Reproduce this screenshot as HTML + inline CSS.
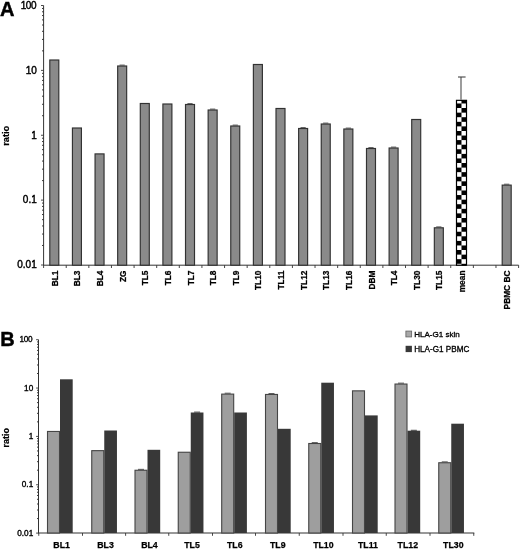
<!DOCTYPE html>
<html><head><meta charset="utf-8"><title>Figure</title>
<style>
html,body{margin:0;padding:0;background:#fff;}
body{width:520px;height:549px;overflow:hidden;font-family:"Liberation Sans",sans-serif;}
svg{display:block;font-family:"Liberation Sans",sans-serif;}
</style></head>
<body>
<svg width="520" height="549" viewBox="0 0 520 549">
<defs>
<pattern id="chk" patternUnits="userSpaceOnUse" x="456.9" y="98.9" width="9.16" height="9.16">
<rect x="0" y="0" width="9.16" height="9.16" fill="#fff"/>
<rect x="4.58" y="0" width="4.58" height="4.58" fill="#000"/>
<rect x="0" y="4.58" width="4.58" height="4.58" fill="#000"/>
</pattern>
<filter id="soft" x="0" y="0" width="520" height="549" filterUnits="userSpaceOnUse"><feGaussianBlur stdDeviation="0.38"/></filter>
</defs>
<rect x="0" y="0" width="520" height="549" fill="#ffffff"/>
<g filter="url(#soft)">
<line x1="43.6" y1="5.5" x2="43.6" y2="265.2" stroke="#333" stroke-width="1"/>
<line x1="43.1" y1="265.2" x2="518.6" y2="265.2" stroke="#333" stroke-width="1"/>
<line x1="41.0" y1="265.00" x2="43.6" y2="265.00" stroke="#333" stroke-width="0.9"/>
<line x1="42.0" y1="245.47" x2="43.6" y2="245.47" stroke="#303030" stroke-width="0.95"/>
<line x1="42.0" y1="234.05" x2="43.6" y2="234.05" stroke="#303030" stroke-width="0.95"/>
<line x1="42.0" y1="225.94" x2="43.6" y2="225.94" stroke="#303030" stroke-width="0.95"/>
<line x1="42.0" y1="219.65" x2="43.6" y2="219.65" stroke="#303030" stroke-width="0.95"/>
<line x1="42.0" y1="214.52" x2="43.6" y2="214.52" stroke="#303030" stroke-width="0.95"/>
<line x1="42.0" y1="210.17" x2="43.6" y2="210.17" stroke="#303030" stroke-width="0.95"/>
<line x1="42.0" y1="206.41" x2="43.6" y2="206.41" stroke="#303030" stroke-width="0.95"/>
<line x1="42.0" y1="203.09" x2="43.6" y2="203.09" stroke="#303030" stroke-width="0.95"/>
<line x1="41.0" y1="200.12" x2="43.6" y2="200.12" stroke="#333" stroke-width="0.9"/>
<line x1="42.0" y1="180.60" x2="43.6" y2="180.60" stroke="#303030" stroke-width="0.95"/>
<line x1="42.0" y1="169.17" x2="43.6" y2="169.17" stroke="#303030" stroke-width="0.95"/>
<line x1="42.0" y1="161.07" x2="43.6" y2="161.07" stroke="#303030" stroke-width="0.95"/>
<line x1="42.0" y1="154.78" x2="43.6" y2="154.78" stroke="#303030" stroke-width="0.95"/>
<line x1="42.0" y1="149.64" x2="43.6" y2="149.64" stroke="#303030" stroke-width="0.95"/>
<line x1="42.0" y1="145.30" x2="43.6" y2="145.30" stroke="#303030" stroke-width="0.95"/>
<line x1="42.0" y1="141.54" x2="43.6" y2="141.54" stroke="#303030" stroke-width="0.95"/>
<line x1="42.0" y1="138.22" x2="43.6" y2="138.22" stroke="#303030" stroke-width="0.95"/>
<line x1="41.0" y1="135.25" x2="43.6" y2="135.25" stroke="#333" stroke-width="0.9"/>
<line x1="42.0" y1="115.72" x2="43.6" y2="115.72" stroke="#303030" stroke-width="0.95"/>
<line x1="42.0" y1="104.30" x2="43.6" y2="104.30" stroke="#303030" stroke-width="0.95"/>
<line x1="42.0" y1="96.19" x2="43.6" y2="96.19" stroke="#303030" stroke-width="0.95"/>
<line x1="42.0" y1="89.90" x2="43.6" y2="89.90" stroke="#303030" stroke-width="0.95"/>
<line x1="42.0" y1="84.77" x2="43.6" y2="84.77" stroke="#303030" stroke-width="0.95"/>
<line x1="42.0" y1="80.42" x2="43.6" y2="80.42" stroke="#303030" stroke-width="0.95"/>
<line x1="42.0" y1="76.66" x2="43.6" y2="76.66" stroke="#303030" stroke-width="0.95"/>
<line x1="42.0" y1="73.34" x2="43.6" y2="73.34" stroke="#303030" stroke-width="0.95"/>
<line x1="41.0" y1="70.38" x2="43.6" y2="70.38" stroke="#333" stroke-width="0.9"/>
<line x1="42.0" y1="50.85" x2="43.6" y2="50.85" stroke="#303030" stroke-width="0.95"/>
<line x1="42.0" y1="39.42" x2="43.6" y2="39.42" stroke="#303030" stroke-width="0.95"/>
<line x1="42.0" y1="31.32" x2="43.6" y2="31.32" stroke="#303030" stroke-width="0.95"/>
<line x1="42.0" y1="25.03" x2="43.6" y2="25.03" stroke="#303030" stroke-width="0.95"/>
<line x1="42.0" y1="19.89" x2="43.6" y2="19.89" stroke="#303030" stroke-width="0.95"/>
<line x1="42.0" y1="15.55" x2="43.6" y2="15.55" stroke="#303030" stroke-width="0.95"/>
<line x1="42.0" y1="11.79" x2="43.6" y2="11.79" stroke="#303030" stroke-width="0.95"/>
<line x1="42.0" y1="8.47" x2="43.6" y2="8.47" stroke="#303030" stroke-width="0.95"/>
<line x1="41.0" y1="5.50" x2="43.6" y2="5.50" stroke="#333" stroke-width="0.9"/>
<line x1="43.60" y1="265.2" x2="43.60" y2="268.0" stroke="#333" stroke-width="0.9"/>
<line x1="66.22" y1="265.2" x2="66.22" y2="268.0" stroke="#333" stroke-width="0.9"/>
<line x1="88.84" y1="265.2" x2="88.84" y2="268.0" stroke="#333" stroke-width="0.9"/>
<line x1="111.46" y1="265.2" x2="111.46" y2="268.0" stroke="#333" stroke-width="0.9"/>
<line x1="134.08" y1="265.2" x2="134.08" y2="268.0" stroke="#333" stroke-width="0.9"/>
<line x1="156.70" y1="265.2" x2="156.70" y2="268.0" stroke="#333" stroke-width="0.9"/>
<line x1="179.31" y1="265.2" x2="179.31" y2="268.0" stroke="#333" stroke-width="0.9"/>
<line x1="201.93" y1="265.2" x2="201.93" y2="268.0" stroke="#333" stroke-width="0.9"/>
<line x1="224.55" y1="265.2" x2="224.55" y2="268.0" stroke="#333" stroke-width="0.9"/>
<line x1="247.17" y1="265.2" x2="247.17" y2="268.0" stroke="#333" stroke-width="0.9"/>
<line x1="269.79" y1="265.2" x2="269.79" y2="268.0" stroke="#333" stroke-width="0.9"/>
<line x1="292.41" y1="265.2" x2="292.41" y2="268.0" stroke="#333" stroke-width="0.9"/>
<line x1="315.03" y1="265.2" x2="315.03" y2="268.0" stroke="#333" stroke-width="0.9"/>
<line x1="337.65" y1="265.2" x2="337.65" y2="268.0" stroke="#333" stroke-width="0.9"/>
<line x1="360.27" y1="265.2" x2="360.27" y2="268.0" stroke="#333" stroke-width="0.9"/>
<line x1="382.89" y1="265.2" x2="382.89" y2="268.0" stroke="#333" stroke-width="0.9"/>
<line x1="405.50" y1="265.2" x2="405.50" y2="268.0" stroke="#333" stroke-width="0.9"/>
<line x1="428.12" y1="265.2" x2="428.12" y2="268.0" stroke="#333" stroke-width="0.9"/>
<line x1="450.74" y1="265.2" x2="450.74" y2="268.0" stroke="#333" stroke-width="0.9"/>
<line x1="473.36" y1="265.2" x2="473.36" y2="268.0" stroke="#333" stroke-width="0.9"/>
<line x1="495.98" y1="265.2" x2="495.98" y2="268.0" stroke="#333" stroke-width="0.9"/>
<line x1="518.60" y1="265.2" x2="518.60" y2="268.0" stroke="#333" stroke-width="0.9"/>
<text x="36.3" y="8.75" text-anchor="end" font-size="10" letter-spacing="-0.35" fill="#000" stroke="#000" stroke-width="0.42">100</text>
<text x="36.75" y="73.62" text-anchor="end" font-size="10" fill="#000" stroke="#000" stroke-width="0.42">10</text>
<text x="36.75" y="138.50" text-anchor="end" font-size="10" fill="#000" stroke="#000" stroke-width="0.42">1</text>
<text x="36.75" y="203.38" text-anchor="end" font-size="10" fill="#000" stroke="#000" stroke-width="0.42">0.1</text>
<text x="36.75" y="268.25" text-anchor="end" font-size="10" fill="#000" stroke="#000" stroke-width="0.42">0.01</text>
<text transform="translate(9.2,135.8) rotate(-90)" text-anchor="middle" font-size="9.2" font-weight="bold" fill="#000" stroke="#000" stroke-width="0.25">ratio</text>
<text x="0.1" y="16.2" font-size="20" font-weight="bold" fill="#000" stroke="#000" stroke-width="0.45">A</text>
<rect x="49.81" y="60.00" width="9.00" height="205.20" fill="#8a8a8a" stroke="#303030" stroke-width="1.15"/>
<text transform="translate(57.86,270.5) rotate(-90)" text-anchor="end" font-size="8.35" font-weight="bold" fill="#000" stroke="#000" stroke-width="0.25">BL1</text>
<rect x="72.43" y="128.00" width="9.00" height="137.20" fill="#8a8a8a" stroke="#303030" stroke-width="1.15"/>
<text transform="translate(80.48,270.5) rotate(-90)" text-anchor="end" font-size="8.35" font-weight="bold" fill="#000" stroke="#000" stroke-width="0.25">BL3</text>
<rect x="95.05" y="153.90" width="9.00" height="111.30" fill="#8a8a8a" stroke="#303030" stroke-width="1.15"/>
<text transform="translate(103.10,270.5) rotate(-90)" text-anchor="end" font-size="8.35" font-weight="bold" fill="#000" stroke="#000" stroke-width="0.25">BL4</text>
<rect x="117.67" y="66.00" width="9.00" height="199.20" fill="#8a8a8a" stroke="#303030" stroke-width="1.15"/>
<line x1="119.57" y1="65.10" x2="124.77" y2="65.10" stroke="#444" stroke-width="0.9"/>
<text transform="translate(125.72,270.5) rotate(-90)" text-anchor="end" font-size="8.35" font-weight="bold" fill="#000" stroke="#000" stroke-width="0.25">ZG</text>
<rect x="140.29" y="103.50" width="9.00" height="161.70" fill="#8a8a8a" stroke="#303030" stroke-width="1.15"/>
<text transform="translate(148.34,270.5) rotate(-90)" text-anchor="end" font-size="8.35" font-weight="bold" fill="#000" stroke="#000" stroke-width="0.25">TL5</text>
<rect x="162.90" y="104.00" width="9.00" height="161.20" fill="#8a8a8a" stroke="#303030" stroke-width="1.15"/>
<text transform="translate(170.95,270.5) rotate(-90)" text-anchor="end" font-size="8.35" font-weight="bold" fill="#000" stroke="#000" stroke-width="0.25">TL6</text>
<rect x="185.52" y="104.50" width="9.00" height="160.70" fill="#8a8a8a" stroke="#303030" stroke-width="1.15"/>
<line x1="187.42" y1="103.60" x2="192.62" y2="103.60" stroke="#444" stroke-width="0.9"/>
<text transform="translate(193.57,270.5) rotate(-90)" text-anchor="end" font-size="8.35" font-weight="bold" fill="#000" stroke="#000" stroke-width="0.25">TL7</text>
<rect x="208.14" y="110.00" width="9.00" height="155.20" fill="#8a8a8a" stroke="#303030" stroke-width="1.15"/>
<line x1="210.04" y1="109.10" x2="215.24" y2="109.10" stroke="#444" stroke-width="0.9"/>
<text transform="translate(216.19,270.5) rotate(-90)" text-anchor="end" font-size="8.35" font-weight="bold" fill="#000" stroke="#000" stroke-width="0.25">TL8</text>
<rect x="230.76" y="126.00" width="9.00" height="139.20" fill="#8a8a8a" stroke="#303030" stroke-width="1.15"/>
<line x1="232.66" y1="125.10" x2="237.86" y2="125.10" stroke="#444" stroke-width="0.9"/>
<text transform="translate(238.81,270.5) rotate(-90)" text-anchor="end" font-size="8.35" font-weight="bold" fill="#000" stroke="#000" stroke-width="0.25">TL9</text>
<rect x="253.38" y="64.50" width="9.00" height="200.70" fill="#8a8a8a" stroke="#303030" stroke-width="1.15"/>
<text transform="translate(261.43,270.5) rotate(-90)" text-anchor="end" font-size="8.35" font-weight="bold" fill="#000" stroke="#000" stroke-width="0.25">TL10</text>
<rect x="276.00" y="108.50" width="9.00" height="156.70" fill="#8a8a8a" stroke="#303030" stroke-width="1.15"/>
<text transform="translate(284.05,270.5) rotate(-90)" text-anchor="end" font-size="8.35" font-weight="bold" fill="#000" stroke="#000" stroke-width="0.25">TL11</text>
<rect x="298.62" y="128.50" width="9.00" height="136.70" fill="#8a8a8a" stroke="#303030" stroke-width="1.15"/>
<line x1="300.52" y1="127.60" x2="305.72" y2="127.60" stroke="#444" stroke-width="0.9"/>
<text transform="translate(306.67,270.5) rotate(-90)" text-anchor="end" font-size="8.35" font-weight="bold" fill="#000" stroke="#000" stroke-width="0.25">TL12</text>
<rect x="321.24" y="124.00" width="9.00" height="141.20" fill="#8a8a8a" stroke="#303030" stroke-width="1.15"/>
<line x1="323.14" y1="123.10" x2="328.34" y2="123.10" stroke="#444" stroke-width="0.9"/>
<text transform="translate(329.29,270.5) rotate(-90)" text-anchor="end" font-size="8.35" font-weight="bold" fill="#000" stroke="#000" stroke-width="0.25">TL13</text>
<rect x="343.86" y="129.00" width="9.00" height="136.20" fill="#8a8a8a" stroke="#303030" stroke-width="1.15"/>
<line x1="345.76" y1="128.10" x2="350.96" y2="128.10" stroke="#444" stroke-width="0.9"/>
<text transform="translate(351.91,270.5) rotate(-90)" text-anchor="end" font-size="8.35" font-weight="bold" fill="#000" stroke="#000" stroke-width="0.25">TL16</text>
<rect x="366.48" y="148.50" width="9.00" height="116.70" fill="#8a8a8a" stroke="#303030" stroke-width="1.15"/>
<line x1="368.38" y1="147.60" x2="373.58" y2="147.60" stroke="#444" stroke-width="0.9"/>
<text transform="translate(374.53,270.5) rotate(-90)" text-anchor="end" font-size="8.35" font-weight="bold" fill="#000" stroke="#000" stroke-width="0.25">DBM</text>
<rect x="389.10" y="148.00" width="9.00" height="117.20" fill="#8a8a8a" stroke="#303030" stroke-width="1.15"/>
<line x1="391.00" y1="147.10" x2="396.20" y2="147.10" stroke="#444" stroke-width="0.9"/>
<text transform="translate(397.15,270.5) rotate(-90)" text-anchor="end" font-size="8.35" font-weight="bold" fill="#000" stroke="#000" stroke-width="0.25">TL4</text>
<rect x="411.71" y="119.50" width="9.00" height="145.70" fill="#8a8a8a" stroke="#303030" stroke-width="1.15"/>
<text transform="translate(419.76,270.5) rotate(-90)" text-anchor="end" font-size="8.35" font-weight="bold" fill="#000" stroke="#000" stroke-width="0.25">TL30</text>
<rect x="434.33" y="227.80" width="9.00" height="37.40" fill="#8a8a8a" stroke="#303030" stroke-width="1.15"/>
<line x1="436.23" y1="226.90" x2="441.43" y2="226.90" stroke="#444" stroke-width="0.9"/>
<text transform="translate(442.38,270.5) rotate(-90)" text-anchor="end" font-size="8.35" font-weight="bold" fill="#000" stroke="#000" stroke-width="0.25">TL15</text>
<rect x="456.5" y="100.35" width="10.0" height="164.85" fill="url(#chk)" stroke="#000" stroke-width="1.2"/>
<line x1="461.0" y1="77" x2="461.0" y2="99.85" stroke="#555" stroke-width="1.15"/>
<line x1="458.0" y1="77" x2="465.6" y2="77" stroke="#444" stroke-width="1.1"/>
<text transform="translate(465.00,270.5) rotate(-90)" text-anchor="end" font-size="8.35" font-weight="bold" fill="#000" stroke="#000" stroke-width="0.25">mean</text>
<rect x="502.19" y="185.10" width="9.00" height="80.10" fill="#8a8a8a" stroke="#303030" stroke-width="1.15"/>
<line x1="504.09" y1="184.20" x2="509.29" y2="184.20" stroke="#444" stroke-width="0.9"/>
<text transform="translate(510.24,270.5) rotate(-90)" text-anchor="end" font-size="8.35" font-weight="bold" fill="#000" stroke="#000" stroke-width="0.25">PBMC BC</text>
<line x1="38.5" y1="339.7" x2="38.5" y2="533.0" stroke="#333" stroke-width="1"/>
<line x1="38.0" y1="533.0" x2="474.3" y2="533.0" stroke="#333" stroke-width="1"/>
<line x1="36.1" y1="533.10" x2="38.5" y2="533.10" stroke="#333" stroke-width="0.9"/>
<line x1="37.0" y1="518.55" x2="38.5" y2="518.55" stroke="#303030" stroke-width="0.95"/>
<line x1="37.0" y1="510.03" x2="38.5" y2="510.03" stroke="#303030" stroke-width="0.95"/>
<line x1="37.0" y1="503.99" x2="38.5" y2="503.99" stroke="#303030" stroke-width="0.95"/>
<line x1="37.0" y1="499.30" x2="38.5" y2="499.30" stroke="#303030" stroke-width="0.95"/>
<line x1="37.0" y1="495.48" x2="38.5" y2="495.48" stroke="#303030" stroke-width="0.95"/>
<line x1="37.0" y1="492.24" x2="38.5" y2="492.24" stroke="#303030" stroke-width="0.95"/>
<line x1="37.0" y1="489.44" x2="38.5" y2="489.44" stroke="#303030" stroke-width="0.95"/>
<line x1="37.0" y1="486.96" x2="38.5" y2="486.96" stroke="#303030" stroke-width="0.95"/>
<line x1="36.1" y1="484.75" x2="38.5" y2="484.75" stroke="#333" stroke-width="0.9"/>
<line x1="37.0" y1="470.20" x2="38.5" y2="470.20" stroke="#303030" stroke-width="0.95"/>
<line x1="37.0" y1="461.68" x2="38.5" y2="461.68" stroke="#303030" stroke-width="0.95"/>
<line x1="37.0" y1="455.64" x2="38.5" y2="455.64" stroke="#303030" stroke-width="0.95"/>
<line x1="37.0" y1="450.95" x2="38.5" y2="450.95" stroke="#303030" stroke-width="0.95"/>
<line x1="37.0" y1="447.13" x2="38.5" y2="447.13" stroke="#303030" stroke-width="0.95"/>
<line x1="37.0" y1="443.89" x2="38.5" y2="443.89" stroke="#303030" stroke-width="0.95"/>
<line x1="37.0" y1="441.09" x2="38.5" y2="441.09" stroke="#303030" stroke-width="0.95"/>
<line x1="37.0" y1="438.61" x2="38.5" y2="438.61" stroke="#303030" stroke-width="0.95"/>
<line x1="36.1" y1="436.40" x2="38.5" y2="436.40" stroke="#333" stroke-width="0.9"/>
<line x1="37.0" y1="421.85" x2="38.5" y2="421.85" stroke="#303030" stroke-width="0.95"/>
<line x1="37.0" y1="413.33" x2="38.5" y2="413.33" stroke="#303030" stroke-width="0.95"/>
<line x1="37.0" y1="407.29" x2="38.5" y2="407.29" stroke="#303030" stroke-width="0.95"/>
<line x1="37.0" y1="402.60" x2="38.5" y2="402.60" stroke="#303030" stroke-width="0.95"/>
<line x1="37.0" y1="398.78" x2="38.5" y2="398.78" stroke="#303030" stroke-width="0.95"/>
<line x1="37.0" y1="395.54" x2="38.5" y2="395.54" stroke="#303030" stroke-width="0.95"/>
<line x1="37.0" y1="392.74" x2="38.5" y2="392.74" stroke="#303030" stroke-width="0.95"/>
<line x1="37.0" y1="390.26" x2="38.5" y2="390.26" stroke="#303030" stroke-width="0.95"/>
<line x1="36.1" y1="388.05" x2="38.5" y2="388.05" stroke="#333" stroke-width="0.9"/>
<line x1="37.0" y1="373.50" x2="38.5" y2="373.50" stroke="#303030" stroke-width="0.95"/>
<line x1="37.0" y1="364.98" x2="38.5" y2="364.98" stroke="#303030" stroke-width="0.95"/>
<line x1="37.0" y1="358.94" x2="38.5" y2="358.94" stroke="#303030" stroke-width="0.95"/>
<line x1="37.0" y1="354.25" x2="38.5" y2="354.25" stroke="#303030" stroke-width="0.95"/>
<line x1="37.0" y1="350.43" x2="38.5" y2="350.43" stroke="#303030" stroke-width="0.95"/>
<line x1="37.0" y1="347.19" x2="38.5" y2="347.19" stroke="#303030" stroke-width="0.95"/>
<line x1="37.0" y1="344.39" x2="38.5" y2="344.39" stroke="#303030" stroke-width="0.95"/>
<line x1="37.0" y1="341.91" x2="38.5" y2="341.91" stroke="#303030" stroke-width="0.95"/>
<line x1="36.1" y1="339.70" x2="38.5" y2="339.70" stroke="#333" stroke-width="0.9"/>
<line x1="38.75" y1="533.0" x2="38.75" y2="535.8" stroke="#333" stroke-width="0.9"/>
<line x1="82.50" y1="533.0" x2="82.50" y2="535.8" stroke="#333" stroke-width="0.9"/>
<line x1="125.60" y1="533.0" x2="125.60" y2="535.8" stroke="#333" stroke-width="0.9"/>
<line x1="168.75" y1="533.0" x2="168.75" y2="535.8" stroke="#333" stroke-width="0.9"/>
<line x1="212.50" y1="533.0" x2="212.50" y2="535.8" stroke="#333" stroke-width="0.9"/>
<line x1="255.50" y1="533.0" x2="255.50" y2="535.8" stroke="#333" stroke-width="0.9"/>
<line x1="299.25" y1="533.0" x2="299.25" y2="535.8" stroke="#333" stroke-width="0.9"/>
<line x1="343.00" y1="533.0" x2="343.00" y2="535.8" stroke="#333" stroke-width="0.9"/>
<line x1="386.25" y1="533.0" x2="386.25" y2="535.8" stroke="#333" stroke-width="0.9"/>
<line x1="430.00" y1="533.0" x2="430.00" y2="535.8" stroke="#333" stroke-width="0.9"/>
<line x1="473.75" y1="533.0" x2="473.75" y2="535.8" stroke="#333" stroke-width="0.9"/>
<text x="32.3" y="342.25" text-anchor="end" font-size="8.2" letter-spacing="-0.3" fill="#000" stroke="#000" stroke-width="0.36">100</text>
<text x="33.2" y="390.60" text-anchor="end" font-size="8.2" fill="#000" stroke="#000" stroke-width="0.36">10</text>
<text x="33.2" y="438.95" text-anchor="end" font-size="8.2" fill="#000" stroke="#000" stroke-width="0.36">1</text>
<text x="33.2" y="487.30" text-anchor="end" font-size="8.2" fill="#000" stroke="#000" stroke-width="0.36">0.1</text>
<text x="33.2" y="535.65" text-anchor="end" font-size="8.2" fill="#000" stroke="#000" stroke-width="0.36">0.01</text>
<text transform="translate(9.1,437.7) rotate(-90)" text-anchor="middle" font-size="9" font-weight="bold" fill="#000" stroke="#000" stroke-width="0.25">ratio</text>
<text x="0.3" y="346.0" font-size="20" font-weight="bold" fill="#000" stroke="#000" stroke-width="0.45">B</text>
<rect x="47.50" y="431.45" width="12.00" height="101.55" fill="#9e9e9e" stroke="#444" stroke-width="1.1"/>
<rect x="60.00" y="379.30" width="12.70" height="153.70" fill="#383838"/>
<text x="61.60" y="548.1" text-anchor="middle" font-size="8.75" font-weight="bold" fill="#000" stroke="#000" stroke-width="0.25">BL1</text>
<rect x="91.75" y="450.65" width="12.00" height="82.35" fill="#9e9e9e" stroke="#444" stroke-width="1.1"/>
<rect x="104.25" y="430.50" width="12.70" height="102.50" fill="#383838"/>
<text x="105.50" y="548.1" text-anchor="middle" font-size="8.75" font-weight="bold" fill="#000" stroke="#000" stroke-width="0.25">BL3</text>
<rect x="135.00" y="470.25" width="12.00" height="62.75" fill="#9e9e9e" stroke="#444" stroke-width="1.1"/>
<line x1="138.00" y1="469.35" x2="144.00" y2="469.35" stroke="#444" stroke-width="0.9"/>
<rect x="147.50" y="449.80" width="12.70" height="83.20" fill="#383838"/>
<text x="149.40" y="548.1" text-anchor="middle" font-size="8.75" font-weight="bold" fill="#000" stroke="#000" stroke-width="0.25">BL4</text>
<rect x="178.25" y="452.25" width="12.00" height="80.75" fill="#9e9e9e" stroke="#444" stroke-width="1.1"/>
<line x1="194.10" y1="412.10" x2="200.10" y2="412.10" stroke="#333" stroke-width="0.9"/>
<rect x="190.75" y="412.50" width="12.70" height="120.50" fill="#383838"/>
<text x="192.00" y="548.1" text-anchor="middle" font-size="8.75" font-weight="bold" fill="#000" stroke="#000" stroke-width="0.25">TL5</text>
<rect x="221.70" y="394.10" width="12.00" height="138.90" fill="#9e9e9e" stroke="#444" stroke-width="1.1"/>
<line x1="224.70" y1="393.20" x2="230.70" y2="393.20" stroke="#444" stroke-width="0.9"/>
<rect x="234.20" y="412.50" width="12.70" height="120.50" fill="#383838"/>
<text x="234.80" y="548.1" text-anchor="middle" font-size="8.75" font-weight="bold" fill="#000" stroke="#000" stroke-width="0.25">TL6</text>
<rect x="265.50" y="394.45" width="12.00" height="138.55" fill="#9e9e9e" stroke="#444" stroke-width="1.1"/>
<line x1="268.50" y1="393.55" x2="274.50" y2="393.55" stroke="#444" stroke-width="0.9"/>
<rect x="278.00" y="428.80" width="12.70" height="104.20" fill="#383838"/>
<text x="277.80" y="548.1" text-anchor="middle" font-size="8.75" font-weight="bold" fill="#000" stroke="#000" stroke-width="0.25">TL9</text>
<rect x="308.75" y="443.50" width="12.00" height="89.50" fill="#9e9e9e" stroke="#444" stroke-width="1.1"/>
<line x1="311.75" y1="442.60" x2="317.75" y2="442.60" stroke="#444" stroke-width="0.9"/>
<rect x="321.25" y="382.70" width="12.70" height="150.30" fill="#383838"/>
<text x="323.40" y="548.1" text-anchor="middle" font-size="8.75" font-weight="bold" fill="#000" stroke="#000" stroke-width="0.25">TL10</text>
<rect x="352.50" y="390.85" width="12.00" height="142.15" fill="#9e9e9e" stroke="#444" stroke-width="1.1"/>
<rect x="365.00" y="415.40" width="12.70" height="117.60" fill="#383838"/>
<text x="368.00" y="548.1" text-anchor="middle" font-size="8.75" font-weight="bold" fill="#000" stroke="#000" stroke-width="0.25">TL11</text>
<rect x="395.00" y="384.05" width="12.00" height="148.95" fill="#9e9e9e" stroke="#444" stroke-width="1.1"/>
<line x1="398.00" y1="383.15" x2="404.00" y2="383.15" stroke="#444" stroke-width="0.9"/>
<line x1="410.85" y1="430.30" x2="416.85" y2="430.30" stroke="#333" stroke-width="0.9"/>
<rect x="407.50" y="430.70" width="12.70" height="102.30" fill="#383838"/>
<text x="407.80" y="548.1" text-anchor="middle" font-size="8.75" font-weight="bold" fill="#000" stroke="#000" stroke-width="0.25">TL12</text>
<rect x="438.75" y="462.75" width="12.00" height="70.25" fill="#9e9e9e" stroke="#444" stroke-width="1.1"/>
<line x1="441.75" y1="461.85" x2="447.75" y2="461.85" stroke="#444" stroke-width="0.9"/>
<rect x="451.25" y="423.70" width="12.70" height="109.30" fill="#383838"/>
<text x="453.30" y="548.1" text-anchor="middle" font-size="8.75" font-weight="bold" fill="#000" stroke="#000" stroke-width="0.25">TL30</text>
<rect x="405.9" y="331.1" width="5.7" height="5.8" fill="#a8a8a8" stroke="#6a6a6a" stroke-width="0.9"/>
<text x="414.2" y="336.9" font-size="8.05" fill="#000" stroke="#000" stroke-width="0.32">HLA-G1 skin</text>
<rect x="405.6" y="345.8" width="6.3" height="6.3" fill="#383838"/>
<text x="414.2" y="351.9" font-size="8.15" fill="#000" stroke="#000" stroke-width="0.32">HLA-G1 PBMC</text>
</g>
</svg>
</body></html>
